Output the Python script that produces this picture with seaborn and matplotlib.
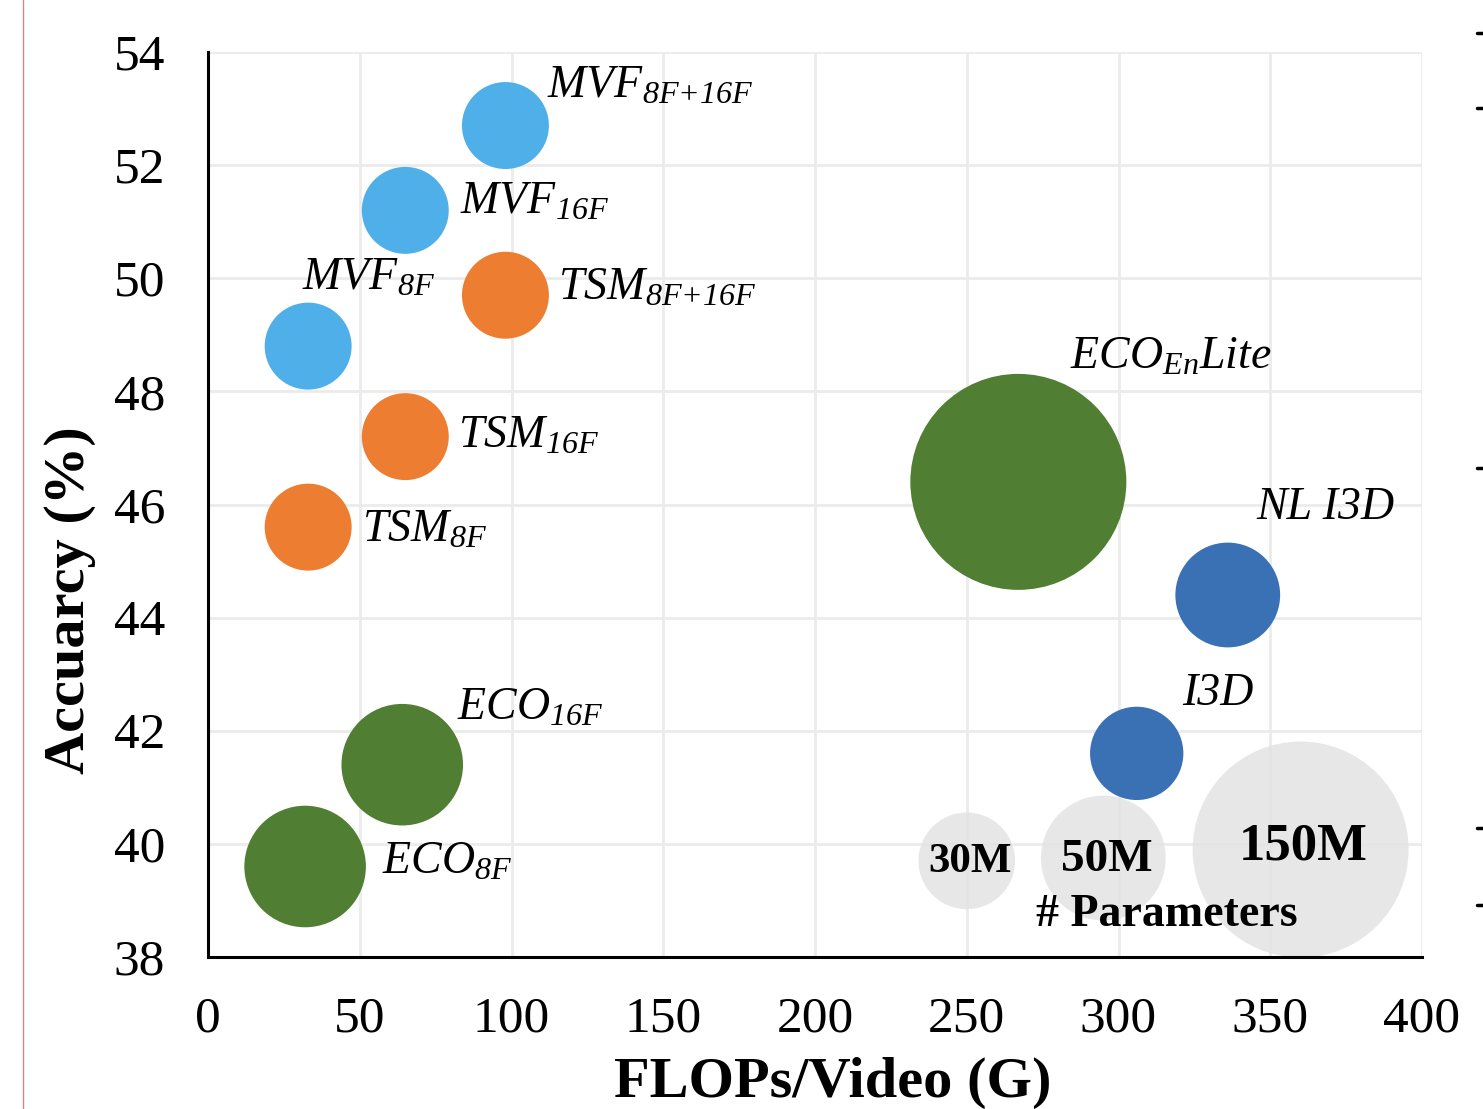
import pandas as pd
import seaborn as sns
import matplotlib.pyplot as plt
from matplotlib.lines import Line2D

# ---- data ----
models = ['MVF_8F+16F', 'MVF_16F', 'MVF_8F', 'TSM_8F+16F', 'TSM_16F', 'TSM_8F',
          'ECO_16F', 'ECO_8F', 'ECO_EnLite', 'NL I3D', 'I3D']
groups = ['MVF', 'MVF', 'MVF', 'TSM', 'TSM', 'TSM', 'ECO', 'ECO', 'ECO', 'I3D', 'I3D']
flops = [98, 65, 33, 98, 65, 33, 64, 32, 267, 336, 306]
accuracy = [52.7, 51.2, 48.8, 49.7, 47.2, 45.6, 41.4, 39.6, 46.4, 44.4, 41.6]
params = [24.3, 24.3, 24.3, 24.3, 24.3, 24.3, 47.5, 47.5, 150, 35.3, 28.0]

# reference bubbles for the "# Parameters" key
ref_labels = ['30M', '50M', '150M']
ref_flops = [250, 295, 360]
ref_accuracy = [39.7, 39.75, 39.9]
ref_params = [30, 50, 150]

labels = [r'$\mathsf{MVF}_{\mathsf{8F{+}16F}}$', r'$\mathsf{MVF}_{\mathsf{16F}}$',
          r'$\mathsf{MVF}_{\mathsf{8F}}$', r'$\mathsf{TSM}_{\mathsf{8F{+}16F}}$',
          r'$\mathsf{TSM}_{\mathsf{16F}}$', r'$\mathsf{TSM}_{\mathsf{8F}}$',
          r'$\mathsf{ECO}_{\mathsf{16F}}$', r'$\mathsf{ECO}_{\mathsf{8F}}$',
          r'$\mathsf{ECO}_{\mathsf{En}}\mathsf{Lite}$', 'NL I3D', 'I3D']
# label anchor (left, baseline) in data coords
label_x = [111.7, 83.0, 31.0, 115.3, 82.4, 50.7, 82.0, 57.3, 284.0, 345.3, 320.9]
label_y = [53.19, 51.15, 49.79, 49.62, 47.0, 45.34, 42.19, 39.48, 48.40, 45.74, 42.45]

palette = {'MVF': '#4FAFE9', 'TSM': '#ED7D31', 'ECO': '#507E32', 'I3D': '#3A71B5'}

df = pd.DataFrame({'model': models, 'group': groups, 'flops': flops,
                   'acc': accuracy, 'params': params})
ref = pd.DataFrame({'label': ref_labels, 'flops': ref_flops,
                    'acc': ref_accuracy, 'params': ref_params})

# ---- style ----
sns.set_style('whitegrid', {'grid.color': '#EBEBEB'})
plt.rcParams['font.family'] = ['serif']
plt.rcParams['font.serif'] = ['Liberation Serif', 'DejaVu Serif']
plt.rcParams['text.color'] = 'black'
plt.rcParams['axes.labelcolor'] = 'black'
plt.rcParams['mathtext.fontset'] = 'custom'
plt.rcParams['mathtext.it'] = 'Liberation Serif:italic'
plt.rcParams['mathtext.sf'] = 'Liberation Serif:italic'
plt.rcParams['mathtext.rm'] = 'Liberation Serif'
plt.rcParams['mathtext.bf'] = 'Liberation Serif:bold'

fig = plt.figure(figsize=(14.83, 11.09), dpi=100)
ax = fig.add_axes([208 / 1483, 1 - 957 / 1109, 1214 / 1483, 905 / 1109])

# bubble area proportional to #params; 150M -> 216 px diameter
smax = (216 * 0.72) ** 2
sns.scatterplot(data=ref, x='flops', y='acc', size='params', sizes=(0, smax),
                size_norm=(0, 150), color='#E3E3E3', alpha=0.85, linewidth=0,
                legend=False, ax=ax, zorder=2)
sns.scatterplot(data=df, x='flops', y='acc', hue='group', palette=palette,
                size='params', sizes=(0, smax), size_norm=(0, 150),
                linewidth=0, legend=False, ax=ax, zorder=3)

for lab, lx, ly in zip(labels, label_x, label_y):
    ax.text(lx, ly, lab, fontsize=33, fontstyle='italic', ha='left',
            va='baseline', zorder=5)

ref_text_y = [39.68, 39.72, 39.95]
ref_sizes = [31, 34, 38]
for lab, fx, fy, fs in zip(ref_labels, ref_flops, ref_text_y, ref_sizes):
    ax.text(fx + 1, fy, lab, fontsize=fs, fontweight='bold',
            ha='center', va='center', zorder=5)
ax.text(316, 38.74, '# Parameters', fontsize=33, fontweight='bold',
        ha='center', va='center', zorder=5)

ax.set_xlim(0, 400)
ax.set_ylim(38, 54)
ax.set_xticks(range(0, 401, 50))
ax.set_yticks(range(38, 55, 2))
ax.grid(True, lw=2.0, color='#EBEBEB')
ax.tick_params(axis='both', length=0, labelsize=37, colors='black')
ax.tick_params(axis='x', pad=28)
ax.tick_params(axis='y', pad=31)

for side in ['top', 'right']:
    ax.spines[side].set_visible(False)
for side in ['left', 'bottom']:
    ax.spines[side].set_color('black')
    ax.spines[side].set_linewidth(2.2)

ax.set_xlabel('FLOPs/Video (G)', fontsize=42, fontweight='bold')
ax.set_ylabel('Accuarcy (%)', fontsize=42, fontweight='bold')
ax.xaxis.set_label_coords(0.515, -0.11)
ax.yaxis.set_label_coords(-0.092, 0.394)

# crop edges seen in the source image
fig.add_artist(Line2D([23 / 1483, 23 / 1483], [0, 1], color='#C98A8A', lw=1))
for py in [33, 108, 468, 828, 905]:
    fig.add_artist(Line2D([1477 / 1483, 1483 / 1483], [1 - py / 1109] * 2,
                          color='black', lw=2.5))

fig.savefig('out.png', dpi=100)
